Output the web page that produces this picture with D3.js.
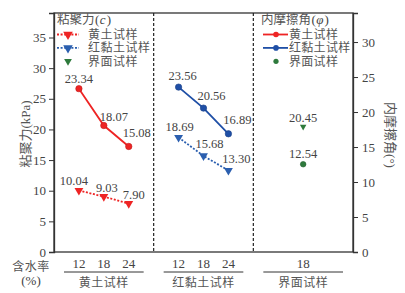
<!DOCTYPE html>
<html><head><meta charset="utf-8">
<script src="https://cdn.jsdelivr.net/npm/d3@7"></script>
<style>
html,body{margin:0;padding:0;background:#fff;}
svg{display:block;}
text{font-family:"Liberation Serif","Noto Sans CJK SC",serif;fill:#444;}
.cjk{font-family:"Liberation Serif","Noto Sans CJK SC",serif;fill:#555;}
</style></head>
<body>
<script>
// ---------- data ----------
const groups = ["黄土试样", "红黏土试样", "界面试样"];
const moisture = [12, 18, 24];
const interfaceMoisture = [18];
const loessCohesion = [10.04, 9.03, 7.90];
const redClayCohesion = [18.69, 15.68, 13.30];
const interfaceCohesion = [20.45];
const loessFriction = [23.34, 18.07, 15.08];
const redClayFriction = [23.56, 20.56, 16.89];
const interfaceFriction = [12.54];
const leftTicks = [0, 5, 10, 15, 20, 25, 30, 35];
const rightTicks = [0, 5, 10, 15, 20, 25, 30];

// label offsets (layout only)
const offLoessC = [[-5,-5],[3,-5],[5,-5]];
const offRedC = [[1,-6],[6,-8],[8,-7]];
const offIntC = [[0,-5]];
const offLoessF = [[0,-6],[10,-5],[8,-9]];
const offRedF = [[4,-7],[8,-8],[9,-10]];
const offIntF = [[0,-6]];

const W = 405, H = 293;
const L = 54, R = 353, T = 13, B = 252;
const RED = "#ee2424", BLUE = "#1f4fa6", BLUE2 = "#2b5faf", GREEN = "#2e7a3c";

const svg = d3.select("body").append("svg").attr("width", W).attr("height", H);

const gx = d3.scaleBand().domain(groups).range([L, R]);
const ix = d3.scaleLinear().domain([6, 30]).range([0, gx.bandwidth()]);
const yL = d3.scaleLinear().domain([0, 39]).range([B, T]);
const yR = d3.scaleLinear().domain([0, 34.15]).range([B, T]);
const X = (g, m) => gx(g) + ix(m);

// frame
svg.append("rect").attr("x", L).attr("y", T).attr("width", R - L).attr("height", B - T)
  .attr("fill", "none").attr("stroke", "#333").attr("stroke-width", 1.3);

// dividers
svg.selectAll("line.div").data(groups.slice(1)).enter().append("line")
  .attr("x1", d => gx(d)).attr("x2", d => gx(d)).attr("y1", T).attr("y2", B)
  .attr("stroke", "#222").attr("stroke-width", 1.2).attr("stroke-dasharray", "3,2");

// axes
const axL = svg.append("g").attr("transform", `translate(${L},0)`)
  .call(d3.axisLeft(yL).tickValues(leftTicks).tickSize(5).tickPadding(3));
const axR = svg.append("g").attr("transform", `translate(${R},0)`)
  .call(d3.axisRight(yR).tickValues(rightTicks).tickSize(5).tickPadding(4));
[axL, axR].forEach(a => {
  a.select(".domain").attr("stroke", "#333").attr("stroke-width", 1.3);
  a.selectAll(".tick line").attr("stroke", "#333");
  a.selectAll(".tick text").attr("font-size", 13).attr("fill", "#444")
    .attr("font-family", "Liberation Serif");
});

// axis titles
svg.append("text").attr("class", "cjk").attr("transform", `translate(30,134) rotate(-90)`)
  .attr("text-anchor", "middle").attr("font-size", 13).text("粘聚力(kPa)");
svg.append("text").attr("class", "cjk").attr("transform", `translate(386,135) rotate(90)`)
  .attr("text-anchor", "middle").attr("font-size", 13).text("内摩擦角(°)");

// x tick labels
const xTicks = [];
moisture.forEach(m => xTicks.push([groups[0], m]));
moisture.forEach(m => xTicks.push([groups[1], m]));
interfaceMoisture.forEach(m => xTicks.push([groups[2], m]));
svg.selectAll("text.xt").data(xTicks).enter().append("text")
  .attr("x", d => X(d[0], d[1])).attr("y", 268).attr("text-anchor", "middle")
  .attr("font-size", 13).text(d => d[1]);
svg.selectAll("line.gu").data(groups).enter().append("line")
  .attr("x1", d => gx(d) + 10).attr("x2", d => gx(d) + gx.bandwidth() - 10)
  .attr("y1", 272).attr("y2", 272).attr("stroke", "#333").attr("stroke-width", 1);
svg.selectAll("text.gl").data(groups).enter().append("text").attr("class", "cjk")
  .attr("x", d => gx(d) + gx.bandwidth() / 2).attr("y", 287).attr("text-anchor", "middle")
  .attr("font-size", 12).attr("letter-spacing", 0.5).text(d => d);
svg.append("text").attr("class", "cjk").attr("x", 31).attr("y", 271).attr("text-anchor", "middle")
  .attr("font-size", 12).attr("letter-spacing", 0.5).text("含水率");
svg.append("text").attr("x", 31).attr("y", 285).attr("text-anchor", "middle")
  .attr("font-size", 13).text("(%)");

// series drawing
const tri = (size) => d3.symbol().type(d3.symbolTriangle).size(size)();
function series(g, ms, vals, y, color, dashed, marker, offs, lineOn) {
  const pts = ms.map((m, i) => ({x: X(g, m), y: y(vals[i]), v: vals[i], o: offs[i]}));
  if (lineOn) {
    svg.append("path").datum(pts)
      .attr("d", d3.line().x(d => d.x).y(d => d.y))
      .attr("fill", "none").attr("stroke", color).attr("stroke-width", 1.8)
      .attr("stroke-dasharray", dashed ? "2,1.6" : null);
  }
  if (marker === "tri" || marker === "triS") {
    svg.selectAll(null).data(pts).enter().append("path")
      .attr("d", tri(marker === "tri" ? 34 : 18))
      .attr("transform", d => `translate(${d.x},${d.y}) rotate(180)`)
      .attr("fill", color);
  } else {
    svg.selectAll(null).data(pts).enter().append("circle")
      .attr("cx", d => d.x).attr("cy", d => d.y).attr("r", marker === "dot" ? 2.8 : 3.2)
      .attr("fill", color).attr("stroke", d3.color(color).darker(0.6)).attr("stroke-width", 0.6);
  }
  svg.selectAll(null).data(pts).enter().append("text")
    .attr("x", d => d.x + d.o[0]).attr("y", d => d.y + d.o[1]).attr("text-anchor", "middle")
    .attr("font-size", 12.5).attr("fill", "#444").text(d => d.v.toFixed(2));
}
series(groups[0], moisture, loessCohesion, yL, RED, true, "tri", offLoessC, true);
series(groups[1], moisture, redClayCohesion, yL, BLUE2, true, "tri", offRedC, true);
series(groups[2], interfaceMoisture, interfaceCohesion, yL, GREEN, false, "triS", offIntC, false);
series(groups[0], moisture, loessFriction, yR, RED, false, "circle", offLoessF, true);
series(groups[1], moisture, redClayFriction, yR, BLUE, false, "circle", offRedF, true);
series(groups[2], interfaceMoisture, interfaceFriction, yR, GREEN, false, "dot", offIntF, false);

// legend title built from separate, measured pieces
function legendTitle(g, x, y, cjk, sym) {
  const a = g.append("text").attr("class", "cjk").attr("x", x).attr("y", y).attr("font-size", 12.5).text(cjk);
  let cx = x + a.node().getComputedTextLength() + 0.5;
  const b = g.append("text").attr("x", cx).attr("y", y).attr("font-size", 13).text("(");
  cx += b.node().getComputedTextLength() + 0.5;
  const c = g.append("text").attr("x", cx).attr("y", y).attr("font-size", 13).attr("font-style", "italic").text(sym);
  cx += c.node().getComputedTextLength() + 1;
  g.append("text").attr("x", cx).attr("y", y).attr("font-size", 13).text(")");
}

// legends
const legC = [["黄土试样", RED, true], ["红黏土试样", BLUE2, true], ["界面试样", GREEN, false]];
const lg1 = svg.append("g");
legendTitle(lg1, 57, 23.5, "粘聚力", "c");
legC.forEach((d, i) => {
  const y = 34.5 + i * 13.4;
  if (d[2]) lg1.append("line").attr("x1", 57).attr("x2", 79).attr("y1", y).attr("y2", y)
    .attr("stroke", d[1]).attr("stroke-width", 1.8).attr("stroke-dasharray", "2,1.6");
  lg1.append("path").attr("d", tri(d[2] ? 40 : 26)).attr("transform", `translate(68,${y}) rotate(180)`).attr("fill", d[1]);
  lg1.append("text").attr("class", "cjk").attr("x", 88).attr("y", y + 4.3).attr("font-size", 12)
    .attr("letter-spacing", 0.5).text(d[0]);
});
const legF = [["黄土试样", RED, true], ["红黏土试样", BLUE, true], ["界面试样", GREEN, false]];
const lg2 = svg.append("g");
legendTitle(lg2, 261, 23.5, "内摩擦角", "φ");
legF.forEach((d, i) => {
  const y = 34.5 + i * 13.4;
  if (d[2]) lg2.append("line").attr("x1", 263).attr("x2", 288).attr("y1", y).attr("y2", y)
    .attr("stroke", d[1]).attr("stroke-width", 1.8);
  lg2.append("circle").attr("cx", 276).attr("cy", y).attr("r", d[2] ? 2.8 : 2.6).attr("fill", d[1]);
  lg2.append("text").attr("class", "cjk").attr("x", 289).attr("y", y + 4.3).attr("font-size", 12)
    .attr("letter-spacing", 0.3).text(d[0]);
});
</script>
</body></html>
